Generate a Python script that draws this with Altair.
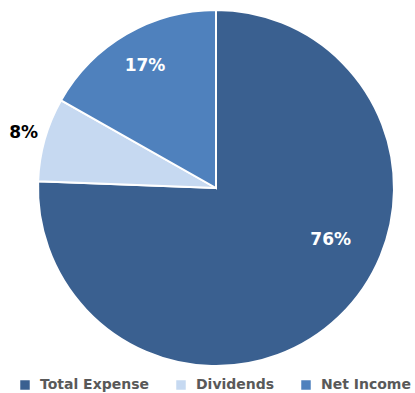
import altair as alt
import pandas as pd

categories = ["Total Expense", "Dividends", "Net Income"]
values = [75.6, 7.6, 16.8]
labels = ["76%", "8%", "17%"]
order = [1, 2, 3]
colors = ["#3A6090", "#C6D9F1", "#4F81BD"]

df = pd.DataFrame({"cat": categories, "val": values, "lab": labels, "ord": order})

cx, cy = 216, 188

pie = alt.Chart(df).mark_arc(radius=178, stroke="white", strokeWidth=2).encode(
    theta=alt.Theta("val:Q", stack=True),
    order=alt.Order("ord:Q"),
    x=alt.value(cx),
    y=alt.value(cy),
    color=alt.Color(
        "cat:N",
        scale=alt.Scale(domain=categories, range=colors),
        sort=categories,
        legend=alt.Legend(
            title=None,
            orient="none",
            legendX=18,
            legendY=378,
            direction="horizontal",
            symbolType="square",
            symbolSize=90,
            symbolStrokeWidth=0,
            labelFont="DejaVu Sans",
            labelFontWeight="bold",
            labelFontSize=14,
            labelColor="#595959",
            labelOffset=8,
            columnPadding=24,
            labelLimit=200,
        ),
    ),
)

txt_base = (
    alt.Chart(df)
    .transform_window(cum="sum(val)", sort=[alt.SortField("ord")], frame=[None, 0])
    .transform_joinaggregate(total="sum(val)")
    .transform_calculate(mid="(datum.cum - datum.val / 2) / datum.total")
    .encode(
        theta=alt.Theta("mid:Q", scale=alt.Scale(domain=[0, 1], range=[0, 6.283185307])),
        x=alt.value(cx),
        y=alt.value(cy),
        text="lab:N",
    )
)

txt_font = dict(font="DejaVu Sans", fontWeight="bold", fontSize=17)

big = txt_base.mark_text(radius=125, color="white", dx=28, dy=-38, **txt_font).transform_filter(
    alt.datum.cat == "Total Expense"
)
ni = txt_base.mark_text(radius=141, color="white", **txt_font).transform_filter(
    alt.datum.cat == "Net Income"
)
dv = txt_base.mark_text(radius=200, color="black", **txt_font).transform_filter(
    alt.datum.cat == "Dividends"
)

chart = (
    alt.layer(pie, alt.layer(big, ni, dv))
    .resolve_scale(theta="independent")
    .properties(width=415, height=393, padding=0, autosize=alt.AutoSizeParams(type="none"))
    .configure_view(stroke=None)
)

chart.save("out.html", embed_options={"renderer": "svg", "actions": False})
